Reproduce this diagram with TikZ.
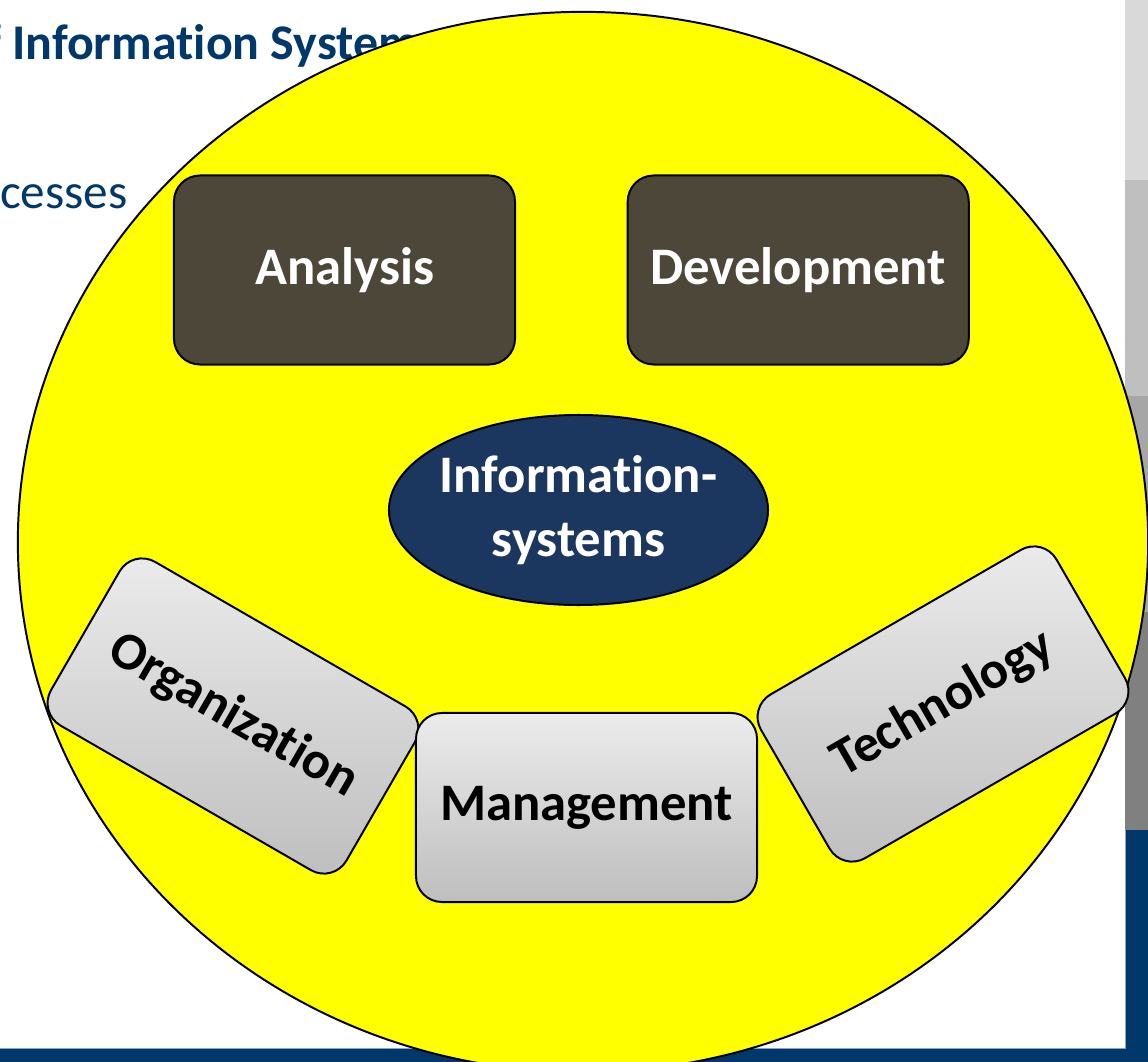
\documentclass[tikz,border=0pt]{standalone}
\usepackage{fontspec}
\setmainfont{Carlito}[Ligatures={NoCommon,NoContextual}]
\usetikzlibrary{shapes.geometric}
\definecolor{slideblue}{RGB}{0,56,108}
\definecolor{fieldyellow}{RGB}{255,255,0}
\definecolor{olivebox}{RGB}{76,71,56}
\definecolor{navycore}{RGB}{27,55,95}
\definecolor{stripa}{RGB}{217,217,217}
\definecolor{stripb}{RGB}{191,191,191}
\definecolor{stripc}{RGB}{166,166,166}
\definecolor{stripd}{RGB}{128,128,128}
\begin{document}
\begin{tikzpicture}[
  x=0.025cm, y=-0.025cm,
  font=\bfseries\fontsize{37.5}{46}\selectfont,
  task/.style={draw, line width=1.4pt, rounded corners=0.65cm, minimum width=8.525cm, minimum height=4.725cm, inner sep=0pt},
  phase/.style={task, fill=olivebox, text=white},
  aspect/.style={task, top color=gray!15, bottom color=gray!51, text=black}
]
\useasboundingbox (0,0) rectangle (1148,1062);
\clip (0,0) rectangle (1148,1062);

% Slide frame
\fill[stripa] (1125,0) rectangle (1148,180);
\fill[stripb] (1125,180) rectangle (1148,396);
\fill[stripc] (1125,396) rectangle (1148,612);
\fill[stripd] (1125,612) rectangle (1148,830);
\fill[slideblue] (1125,830) rectangle (1148,1062);
\fill[slideblue] (0,1048) rectangle (1148,1062);
\draw[slideblue!45, line width=0.3pt] (0,1048) -- (1125,1048) -- (1125,830);

% Slide text behind the circle
\node[anchor=base west, inner sep=0pt, text=slideblue, font=\bfseries\fontsize{35.5}{42}\selectfont] (title) at (-42,60) {of Information Systems};
\node[anchor=base west, inner sep=0pt, text=slideblue, font=\fontsize{35}{42}\selectfont] (item) at (-68,209) {Processes};

% Yellow field
\node[ellipse, draw, line width=1.4pt, fill=fieldyellow, minimum width=28.25cm, minimum height=26.5cm, inner sep=0pt] (field) at (583,542) {};

% Phases
\node[phase] (analysis) at (344.5,270) {Analysis};
\node[phase, right of=analysis, node distance=11.34cm] (development) {Development};

% Core
\node[ellipse, draw, line width=1.4pt, fill=navycore, text=white, align=center, minimum width=9.475cm, minimum height=4.75cm, inner sep=-4pt] (core) at (578.5,510) {Information-\\systems};

% Aspects
\node[aspect, rotate=-30] (organization) at (233,716) {Organization};
\node[aspect] (management) at (586.5,807.5) {Management};
\node[aspect, rotate=30] (technology) at (943,704) {Technology};
\end{tikzpicture}
\end{document}
